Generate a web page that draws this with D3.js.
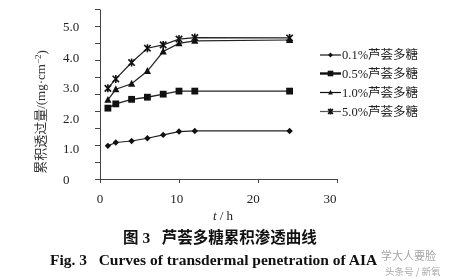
<!DOCTYPE html>
<html>
<head>
<meta charset="utf-8">
<script src="https://cdn.jsdelivr.net/npm/d3@7"></script>
<style>
  body { margin: 0; background: #fff; }
  svg { display: block; will-change: transform; }
  text { fill: #111; }
</style>
</head>
<body>
<div id="chart"></div>
<script>
// data
var hours = [1, 2, 4, 6, 8, 10, 12, 24];
var conc01 = [1.09, 1.20, 1.25, 1.34, 1.45, 1.56, 1.58, 1.58];
var conc05 = [2.33, 2.47, 2.62, 2.69, 2.79, 2.89, 2.89, 2.89];
var conc10 = [2.60, 2.95, 3.13, 3.55, 4.19, 4.46, 4.54, 4.57];
var conc50 = [2.98, 3.29, 3.83, 4.30, 4.41, 4.60, 4.65, 4.64];
var seriesNames = ["0.1%芦荟多糖", "0.5%芦荟多糖", "1.0%芦荟多糖", "5.0%芦荟多糖"];
var seriesMarks = ["diamond", "square", "triangle", "star"];
var xTicks = [0, 10, 20, 30];
var yTicks = [0, 1, 2, 3, 4, 5];

var W = 451, H = 280;
var serif = "'Times New Roman','Liberation Serif','Noto Sans CJK SC',serif";
var cjk = "'Liberation Serif','Noto Sans CJK SC',serif";

var svg = d3.select("#chart").append("svg")
    .attr("width", W).attr("height", H);

var x = d3.scaleLinear().domain([0, 30]).range([100, 337]);
var xLab = d3.scaleLinear().domain([0, 30]).range([100, 330]);
var yTop = 5.59;
var y = d3.scaleLinear().domain([0, yTop]).range([179, 9]);

// y axis: tick marks every tenth of the range, labels at whole values
var yAxis = svg.append("g")
    .attr("transform", "translate(100,0)")
    .call(d3.axisLeft(y)
        .tickValues(d3.range(11).map(function (i) { return i * yTop / 10; }))
        .tickSize(5).tickSizeOuter(0).tickFormat(""));
yAxis.selectAll("path, line").attr("stroke", "#444");

svg.append("g").selectAll("text")
    .data(yTicks)
    .enter().append("text")
    .attr("x", 63)
    .attr("y", function (d) { return y(d); })
    .attr("dy", "0.35em")
    .attr("font-family", serif)
    .attr("font-size", 13)
    .style("fill", "#222")
    .text(function (d) { return d === 0 ? "0" : d3.format(".1f")(d); });

// x axis
var xAxis = svg.append("g")
    .attr("transform", "translate(0,179)")
    .call(d3.axisBottom(x).tickValues(xTicks).tickSize(4).tickSizeOuter(0).tickFormat(""));
xAxis.selectAll("path, line").attr("stroke", "#444");

svg.append("g").selectAll("text")
    .data(xTicks)
    .enter().append("text")
    .attr("x", function (d) { return xLab(d); })
    .attr("y", 198)
    .attr("dy", "0.35em")
    .attr("text-anchor", "middle")
    .attr("font-family", serif)
    .attr("font-size", 13)
    .style("fill", "#222")
    .text(function (d) { return d; });

// axis titles
var xt = svg.append("text")
    .attr("x", 223).attr("y", 215).attr("dy", "0.35em")
    .attr("text-anchor", "middle")
    .attr("font-family", serif).attr("font-size", 13)
    .style("fill", "#222");
xt.append("tspan").attr("font-style", "italic").text("t");
xt.append("tspan").text(" / h");

var yt = svg.append("text")
    .attr("transform", "translate(40,112) rotate(-90)")
    .attr("text-anchor", "middle")
    .attr("dy", "0.35em")
    .attr("font-family", cjk).attr("font-size", 13)
    .style("fill", "#333");
yt.append("tspan").text("累积透过量/(mg·cm");
yt.append("tspan").attr("dy", "-0.45em").attr("font-size", 9).text("−2");
yt.append("tspan").attr("dy", "0.45em").text(")");

// marker shapes
function drawMark(g, kind, cx, cy, s) {
    if (kind === "diamond") {
        g.append("path")
            .attr("d", "M" + cx + "," + (cy - s) + "L" + (cx + s) + "," + cy + "L" + cx + "," + (cy + s) + "L" + (cx - s) + "," + cy + "Z")
            .attr("fill", "#111");
    } else if (kind === "square") {
        g.append("rect")
            .attr("x", cx - s).attr("y", cy - s)
            .attr("width", 2 * s).attr("height", 2 * s)
            .attr("fill", "#111");
    } else if (kind === "triangle") {
        g.append("path")
            .attr("d", "M" + cx + "," + (cy - s * 1.1) + "L" + (cx + s) + "," + (cy + s * 0.8) + "L" + (cx - s) + "," + (cy + s * 0.8) + "Z")
            .attr("fill", "#111");
    } else {
        var d = s * 0.8;
        g.append("path")
            .attr("d", "M" + (cx - d) + "," + (cy - d) + "L" + (cx + d) + "," + (cy + d) +
                "M" + (cx + d) + "," + (cy - d) + "L" + (cx - d) + "," + (cy + d) +
                "M" + cx + "," + (cy - s) + "L" + cx + "," + (cy + s))
            .attr("stroke", "#111").attr("stroke-width", 1.6).attr("fill", "none");
    }
}

var allSeries = [conc01, conc05, conc10, conc50];
var markSize = [3.2, 3.4, 3.6, 4];

var line = d3.line()
    .x(function (d) { return x(d[0]); })
    .y(function (d) { return y(d[1]); });

allSeries.forEach(function (vals, i) {
    var pts = hours.map(function (h, j) { return [h, vals[j]]; });
    var g = svg.append("g");
    g.append("path")
        .datum(pts)
        .attr("d", line)
        .attr("fill", "none")
        .attr("stroke", "#222")
        .attr("stroke-width", i === 1 ? 1.4 : 1.2);
    pts.forEach(function (p) {
        drawMark(g, seriesMarks[i], x(p[0]), y(p[1]), markSize[i]);
    });
});

// legend
var legendY = [55, 73.5, 92.5, 111.5];
seriesNames.forEach(function (name, i) {
    var g = svg.append("g");
    g.append("line")
        .attr("x1", 320).attr("x2", 341)
        .attr("y1", legendY[i]).attr("y2", legendY[i])
        .attr("stroke", i === 3 ? "#555" : "#111")
        .attr("stroke-width", i === 1 ? 2.4 : 1.2);
    drawMark(g, seriesMarks[i], 330.5, legendY[i], i === 1 ? 2.8 : (i === 3 ? 3 : 2.4));
    g.append("text")
        .attr("x", 342).attr("y", legendY[i]).attr("dy", "0.35em")
        .attr("font-family", cjk).attr("font-size", 12.5)
        .style("fill", "#222")
        .text(name);
});

// captions
svg.append("text")
    .attr("x", 220).attr("y", 238).attr("dy", "0.35em")
    .attr("text-anchor", "middle")
    .attr("font-family", cjk).attr("font-size", 15.5).attr("font-weight", "bold")
    .style("fill", "#111")
    .text("图 3\u00a0\u00a0\u00a0芦荟多糖累积渗透曲线");

svg.append("text")
    .attr("x", 50).attr("y", 260).attr("dy", "0.35em")
    .attr("font-family", serif).attr("font-size", 15.5).attr("font-weight", "bold")
    .style("fill", "#111")
    .text("Fig. 3\u00a0\u00a0\u00a0Curves of transdermal penetration of AIA");

// watermark
svg.append("text")
    .attr("x", 381).attr("y", 256.5).attr("dy", "0.35em")
    .attr("font-family", "'Noto Sans CJK SC',sans-serif").attr("font-size", 11)
    .style("fill", "#888").attr("opacity", 0.75)
    .text("学大人要脸");
svg.append("text")
    .attr("x", 385).attr("y", 271.5).attr("dy", "0.35em")
    .attr("font-family", "'Noto Sans CJK SC',sans-serif").attr("font-size", 9.5)
    .style("fill", "#aaa")
    .text("头条号 / 新氧");
</script>
</body>
</html>
